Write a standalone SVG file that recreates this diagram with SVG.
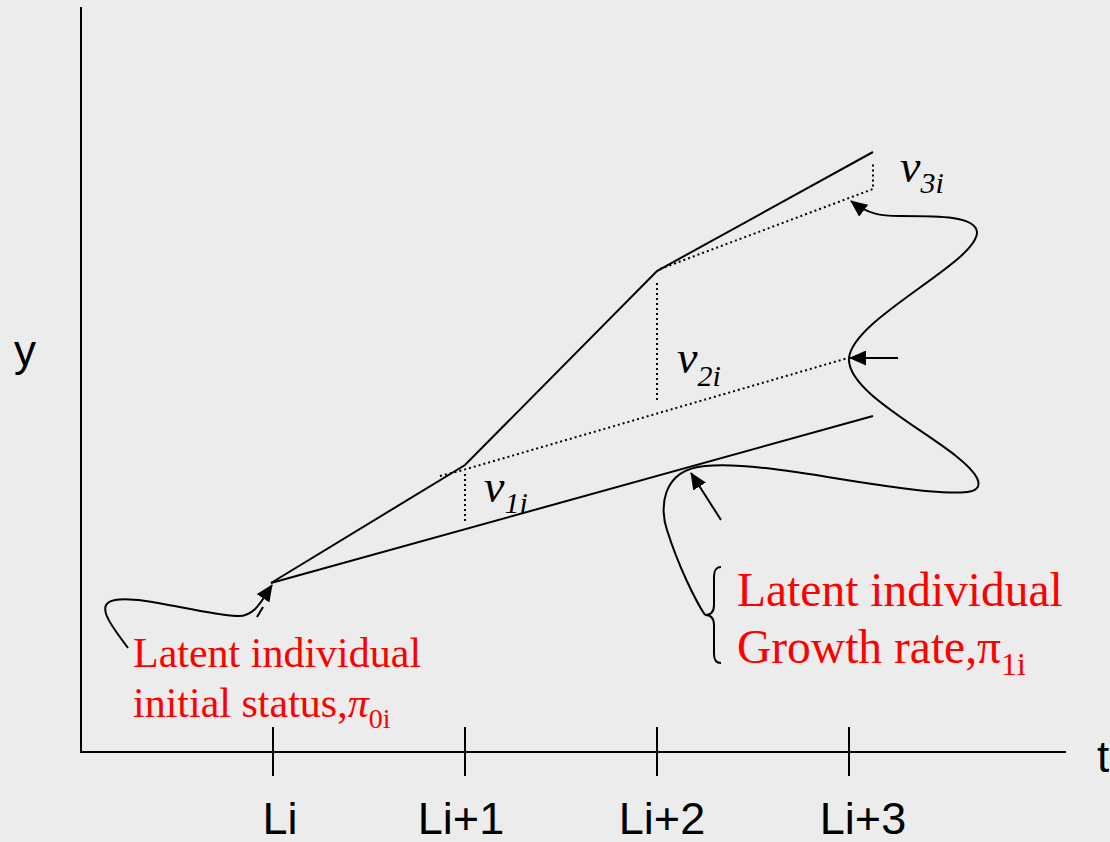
<svg xmlns="http://www.w3.org/2000/svg" width="1110" height="842" viewBox="0 0 1110 842">
<style>
.ln{fill:none;stroke:#000;stroke-width:2}
.dot{fill:none;stroke:#000;stroke-width:2;stroke-dasharray:2 3}
.sans{font-family:"Liberation Sans",Arial,sans-serif;fill:#000}
.vlab{font-family:"Liberation Serif","Times New Roman",serif;font-style:italic;fill:#000;font-size:46px}
.red{font-family:"Liberation Serif","Times New Roman",serif;fill:#ff0000}
</style>
<defs>
<marker id="ah" viewBox="0 0 17 15" refX="16" refY="7.5" markerWidth="17" markerHeight="15" markerUnits="userSpaceOnUse" orient="auto-start-reverse">
<path d="M0,0 L17,7.5 L0,15 z" fill="#000"/>
</marker>
</defs>
<rect x="0" y="0" width="1110" height="842" fill="#ececec"/>

<g id="axes">
<line class="ln" x1="81" y1="7" x2="81" y2="752"/>
<line class="ln" x1="80" y1="752" x2="1066" y2="752"/>
<line class="ln" x1="273" y1="727" x2="273" y2="776"/>
<line class="ln" x1="465" y1="727" x2="465" y2="776"/>
<line class="ln" x1="657" y1="727" x2="657" y2="776"/>
<line class="ln" x1="849" y1="727" x2="849" y2="776"/>
<text class="sans" x="14" y="366" font-size="44">y</text>
<text class="sans" x="1097" y="772" font-size="44">t</text>
<text class="sans" x="280" y="834" font-size="45" text-anchor="middle">Li</text>
<text class="sans" x="461" y="834" font-size="45" text-anchor="middle">Li+1</text>
<text class="sans" x="662" y="834" font-size="45" text-anchor="middle">Li+2</text>
<text class="sans" x="863" y="834" font-size="45" text-anchor="middle">Li+3</text>
</g>

<g id="trajectory">
<polyline class="ln" points="271,583 465,465 657,271 873,152"/>
<line class="ln" x1="271" y1="583" x2="873" y2="416"/>
<polyline class="dot" points="440,476 463,470 848,358"/>
<line class="dot" x1="465" y1="474" x2="465" y2="521"/>
<line class="dot" x1="657" y1="283" x2="657" y2="402"/>
<polyline class="dot" points="660,269 873,189 873,163"/>
</g>

<g id="v3">
<text class="vlab" x="900" y="182">v<tspan font-size="30" dy="11">3i</tspan></text>
</g>
<g id="v2">
<text class="vlab" x="677" y="373">v<tspan font-size="30" dy="13">2i</tspan></text>
</g>
<g id="v1">
<text class="vlab" x="484" y="502">v<tspan font-size="30" dy="11">1i</tspan></text>
</g>

<g id="initial-status">
<text class="red" x="133" y="667" font-size="42">Latent individual</text>
<text class="red" x="133" y="717" font-size="42">initial status,<tspan font-style="italic">π</tspan><tspan font-size="28" dy="11">0i</tspan></text>
</g>

<g id="growth-rate">
<path class="ln" d="M721,567 C716,567 714,570 714,578 L714,605 C714,612 711,615 705,615 C711,615 714,618 714,625 L714,654 C714,660 716,663 721,663"/>
<text class="red" x="737" y="606" font-size="47.5">Latent individual</text>
<text class="red" x="737" y="663" font-size="47.5">Growth rate,π<tspan font-size="32" dy="12">1i</tspan></text>
</g>

<g id="connectors">
<path class="ln" d="M128,648 C115,630 92,604 115,600 C140,595 200,614 237,616 C255,617 262,600 272,585" marker-end="url(#ah)"/>
<line class="ln" x1="257" y1="617" x2="263" y2="607"/>
<path class="ln" d="M851,201 C868,214 880,216 900,216 C940,216 975,216 977,232 C978,262 853,318 849,358 C846,398 960,445 977,478 C985,495 960,493 940,492 C870,488 760,460 705,466 C660,470 660,510 667,530 C678,565 695,600 705,615" marker-start="url(#ah)"/>
<line class="ln" x1="898" y1="358" x2="850" y2="358" marker-end="url(#ah)"/>
<line class="ln" x1="721" y1="520" x2="691" y2="473" marker-end="url(#ah)"/>
</g>
</svg>
